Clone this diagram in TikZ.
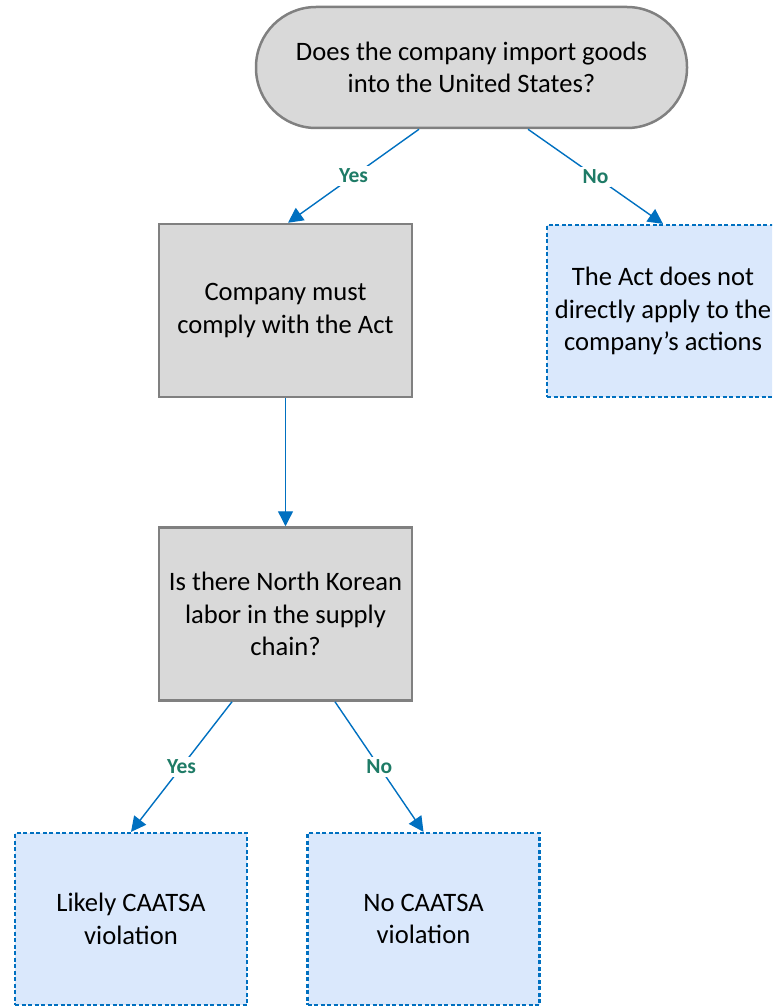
\documentclass[tikz,border=0pt]{standalone}
\usepackage{fontspec}
\setmainfont{Carlito}
\usetikzlibrary{arrows.meta}
\definecolor{boxgray}{HTML}{D9D9D9}
\definecolor{edgegray}{HTML}{808080}
\definecolor{flowblue}{HTML}{0070C0}
\definecolor{paleblue}{HTML}{DAE8FC}
\definecolor{labelgreen}{HTML}{1E7B66}
\begin{document}
\begin{tikzpicture}[x=1pt,y=-1pt,
  txt/.style={font=\fontsize{26.6}{32.5}\selectfont, align=center, text=black},
  question/.style={txt, draw=edgegray, line width=2.5pt, fill=boxgray,
    rounded corners=60pt, minimum width=431pt, minimum height=121pt, inner sep=0pt},
  graybox/.style={txt, draw=edgegray, line width=2.5pt, fill=boxgray,
    minimum width=253pt, minimum height=173pt, inner sep=0pt},
  outcome/.style={txt, draw=flowblue, line width=2.2pt, dash pattern=on 4pt off 2.5pt,
    fill=paleblue, minimum width=232pt, minimum height=172pt, inner sep=0pt},
  flow/.style={draw=flowblue, line width=1.4pt, -{Triangle[length=15pt,width=15pt]}},
  answer/.style={font=\fontsize{21.5}{24}\selectfont\bfseries, text=labelgreen,
    fill=white, inner sep=3pt}
]
\useasboundingbox (0,0) rectangle (772,1006);
\clip (0,0) rectangle (772,1006);

% decision nodes
\node[question] (q1) at (471.5,67.5) {Does the company import goods\\into the United States?};
\node[graybox] (comply) at (285.5,310.5) {Company must\\comply with the Act};
\node[graybox] (chain) at (285.5,614) {Is there North Korean\\labor in the supply\\chain?};

% outcomes
\node[outcome] (noapply) at (663,311) {The Act does not\\directly apply to the\\company’s actions};
\node[outcome] (likely) at (131,919) {Likely CAATSA\\violation};
\node[outcome] (none) at (423.5,919) {No CAATSA\\violation};

% connectors
\draw[flow] ([xshift=-52.5pt]q1.south) -- node[answer]{Yes} ([xshift=2.5pt]comply.north);
\draw[flow] ([xshift=56.5pt]q1.south) -- node[answer]{No} (noapply.north);
\draw[flow] (comply.south) -- (chain.north);
\draw[flow] ([xshift=-53.5pt]chain.south) -- node[answer]{Yes} (likely.north);
\draw[flow] ([xshift=49.5pt]chain.south) -- node[answer]{No} (none.north);
\end{tikzpicture}
\end{document}
